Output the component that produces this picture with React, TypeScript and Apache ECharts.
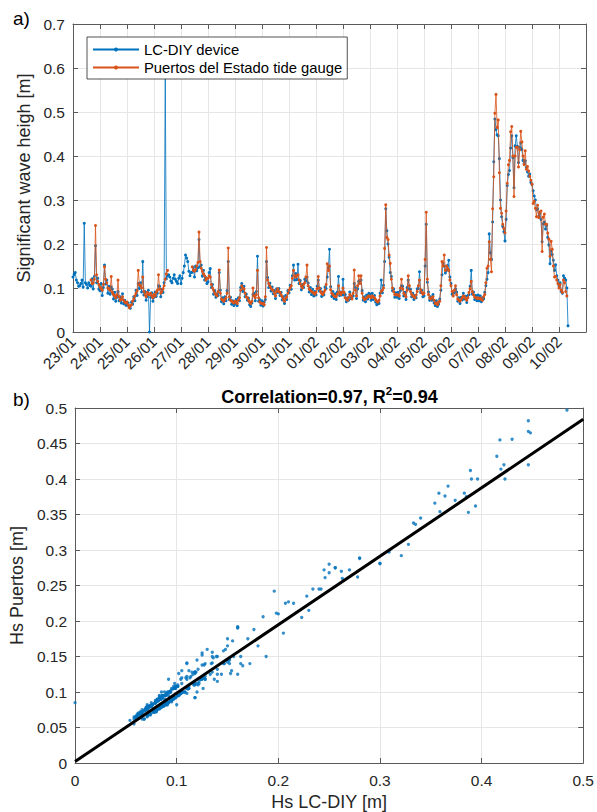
import React, { useEffect, useRef } from 'react';
import * as echarts from 'echarts';

// Day tick labels (one per day starting 23/01 at day 0)
const dateLabels = ['23/01', '24/01', '25/01', '26/01', '27/01', '28/01', '29/01', '30/01', '31/01',
  '01/02', '02/02', '03/02', '04/02', '05/02', '06/02', '07/02', '08/02', '09/02', '10/02'];

// Sampling step of both records, in days (hourly)
const sampleStepDays = 1 / 24;

// LC-DIY device significant wave height [m], hourly from 23/01 00:00 (one row per day)
const lcDiyHs: number[] = [
  0.125, 0.131, 0.135, 0.118, 0.112, 0.104, 0.105, 0.110, 0.118, 0.102, 0.247, 0.112, 0.108, 0.100, 0.112, 0.106, 0.104, 0.121, 0.098, 0.126, 0.196, 0.112, 0.122, 0.097,
  0.094, 0.110, 0.083, 0.101, 0.152, 0.109, 0.118, 0.088, 0.104, 0.086, 0.102, 0.097, 0.075, 0.090, 0.070, 0.079, 0.092, 0.071, 0.080, 0.066, 0.087, 0.064, 0.072, 0.061,
  0.061, 0.066, 0.058, 0.054, 0.068, 0.063, 0.080, 0.071, 0.095, 0.083, 0.110, 0.099, 0.112, 0.091, 0.160, 0.084, 0.092, 0.072, 0.081, 0.095, 0.000, 0.079, 0.089, 0.070,
  0.079, 0.091, 0.081, 0.088, 0.105, 0.104, 0.080, 0.097, 0.090, 0.112, 0.584, 0.121, 0.128, 0.130, 0.125, 0.116, 0.112, 0.122, 0.130, 0.120, 0.115, 0.110, 0.122, 0.128,
  0.110, 0.122, 0.135, 0.150, 0.175, 0.168, 0.160, 0.138, 0.128, 0.135, 0.136, 0.147, 0.125, 0.150, 0.139, 0.146, 0.210, 0.148, 0.152, 0.127, 0.140, 0.118, 0.124, 0.110,
  0.114, 0.135, 0.144, 0.101, 0.108, 0.086, 0.094, 0.079, 0.087, 0.083, 0.135, 0.095, 0.069, 0.078, 0.064, 0.080, 0.071, 0.094, 0.160, 0.074, 0.079, 0.063, 0.071, 0.060,
  0.064, 0.074, 0.060, 0.078, 0.071, 0.101, 0.110, 0.092, 0.104, 0.080, 0.086, 0.072, 0.077, 0.062, 0.058, 0.066, 0.085, 0.088, 0.071, 0.092, 0.172, 0.070, 0.074, 0.061,
  0.071, 0.059, 0.068, 0.074, 0.160, 0.124, 0.101, 0.111, 0.093, 0.102, 0.087, 0.094, 0.076, 0.098, 0.090, 0.099, 0.083, 0.090, 0.073, 0.080, 0.065, 0.083, 0.074, 0.094,
  0.089, 0.106, 0.097, 0.128, 0.152, 0.118, 0.133, 0.119, 0.154, 0.110, 0.117, 0.096, 0.108, 0.101, 0.120, 0.116, 0.125, 0.111, 0.091, 0.101, 0.085, 0.097, 0.082, 0.092,
  0.084, 0.104, 0.118, 0.093, 0.099, 0.081, 0.091, 0.084, 0.102, 0.099, 0.125, 0.146, 0.188, 0.103, 0.081, 0.092, 0.076, 0.087, 0.074, 0.091, 0.126, 0.083, 0.091, 0.084,
  0.120, 0.084, 0.085, 0.069, 0.078, 0.072, 0.091, 0.076, 0.081, 0.082, 0.110, 0.101, 0.076, 0.098, 0.115, 0.117, 0.118, 0.094, 0.072, 0.080, 0.069, 0.084, 0.075, 0.088,
  0.086, 0.072, 0.088, 0.074, 0.083, 0.068, 0.062, 0.064, 0.065, 0.088, 0.118, 0.089, 0.106, 0.160, 0.280, 0.230, 0.200, 0.170, 0.135, 0.126, 0.094, 0.098, 0.079, 0.089,
  0.079, 0.090, 0.076, 0.094, 0.105, 0.104, 0.082, 0.090, 0.074, 0.101, 0.118, 0.098, 0.097, 0.080, 0.088, 0.074, 0.083, 0.078, 0.098, 0.099, 0.137, 0.090, 0.095, 0.080,
  0.082, 0.150, 0.245, 0.113, 0.091, 0.072, 0.080, 0.072, 0.085, 0.066, 0.060, 0.071, 0.058, 0.063, 0.075, 0.095, 0.130, 0.156, 0.150, 0.134, 0.140, 0.151, 0.163, 0.125,
  0.110, 0.086, 0.088, 0.089, 0.098, 0.091, 0.070, 0.078, 0.065, 0.079, 0.073, 0.088, 0.075, 0.081, 0.067, 0.083, 0.085, 0.104, 0.140, 0.086, 0.091, 0.074, 0.083, 0.071,
  0.084, 0.071, 0.082, 0.069, 0.077, 0.075, 0.090, 0.105, 0.120, 0.135, 0.223, 0.180, 0.165, 0.250, 0.387, 0.484, 0.460, 0.448, 0.446, 0.394, 0.300, 0.262, 0.240, 0.228,
  0.207, 0.256, 0.333, 0.358, 0.367, 0.418, 0.446, 0.396, 0.328, 0.423, 0.446, 0.422, 0.385, 0.419, 0.430, 0.415, 0.390, 0.383, 0.389, 0.374, 0.364, 0.354, 0.359, 0.340,
  0.335, 0.321, 0.309, 0.300, 0.278, 0.280, 0.263, 0.270, 0.256, 0.205, 0.246, 0.250, 0.234, 0.242, 0.215, 0.198, 0.155, 0.185, 0.176, 0.163, 0.140, 0.153, 0.128, 0.118,
  0.105, 0.112, 0.092, 0.088, 0.128, 0.122, 0.118, 0.100, 0.014,
];

// Puertos del Estado tide gauge significant wave height [m], same hourly grid (null = no data)
const puertosHs: (number | null)[] = [
  null, null, null, null, null, null, null, null, null, null, null, null, null, null, null, null, 0.118, 0.110, 0.112, 0.120, 0.242, 0.130, 0.115, 0.108,
  0.102, 0.098, 0.095, 0.108, 0.148, 0.120, 0.112, 0.100, 0.098, 0.095, 0.126, 0.090, 0.085, 0.082, 0.078, 0.084, 0.118, 0.080, 0.072, 0.075, 0.080, 0.072, 0.068, 0.066,
  0.068, 0.062, 0.055, 0.060, 0.062, 0.070, 0.075, 0.082, 0.088, 0.094, 0.140, 0.108, 0.105, 0.100, 0.125, 0.092, 0.085, 0.080, 0.090, 0.086, 0.085, 0.088, 0.082, 0.078,
  0.085, 0.082, 0.090, 0.095, 0.130, 0.098, 0.088, 0.092, 0.098, 0.105, 0.120, 0.132, 0.140, null, null, null, null, null, null, null, null, null, null, null,
  null, null, null, null, null, null, null, null, null, null, 0.148, 0.140, 0.138, 0.142, 0.150, 0.158, 0.227, 0.160, 0.145, 0.138, 0.132, 0.128, 0.118, 0.122,
  0.122, 0.128, 0.125, 0.108, 0.100, 0.095, 0.088, 0.085, 0.082, 0.092, 0.141, 0.088, 0.075, 0.072, 0.070, 0.074, 0.078, 0.088, 0.191, 0.080, 0.072, 0.070, 0.068, 0.066,
  0.070, 0.068, 0.065, 0.072, 0.078, 0.095, 0.105, 0.100, 0.098, 0.088, 0.080, 0.078, 0.072, 0.068, 0.065, 0.070, 0.100, 0.082, 0.078, 0.085, 0.140, 0.078, 0.068, 0.066,
  0.065, 0.064, 0.062, 0.080, 0.192, 0.118, 0.110, 0.104, 0.100, 0.096, 0.095, 0.088, 0.082, 0.092, 0.098, 0.092, 0.090, 0.084, 0.080, 0.074, 0.070, 0.076, 0.080, 0.088,
  0.095, 0.100, 0.105, 0.122, 0.140, 0.128, 0.125, 0.128, 0.130, 0.118, 0.110, 0.104, 0.100, 0.108, 0.112, 0.125, 0.152, 0.105, 0.098, 0.095, 0.092, 0.090, 0.088, 0.086,
  0.090, 0.098, 0.126, 0.100, 0.092, 0.088, 0.085, 0.090, 0.095, 0.108, 0.155, 0.140, 0.150, 0.096, 0.088, 0.085, 0.082, 0.080, 0.080, 0.086, 0.105, 0.090, 0.085, 0.090,
  0.100, 0.090, 0.078, 0.075, 0.072, 0.078, 0.085, 0.082, 0.075, 0.088, 0.141, 0.095, 0.082, 0.105, 0.128, 0.110, 0.128, 0.088, 0.078, 0.074, 0.075, 0.078, 0.080, 0.082,
  0.080, 0.078, 0.082, 0.080, 0.078, 0.074, 0.070, 0.068, 0.072, 0.082, 0.092, 0.095, 0.100, 0.190, 0.289, 0.215, 0.210, 0.175, 0.156, 0.120, 0.100, 0.092, 0.085, 0.084,
  0.085, 0.084, 0.082, 0.100, 0.120, 0.098, 0.088, 0.084, 0.080, 0.095, 0.128, 0.105, 0.092, 0.086, 0.082, 0.080, 0.078, 0.084, 0.092, 0.105, 0.118, 0.096, 0.090, 0.086,
  0.088, 0.165, 0.272, 0.120, 0.085, 0.078, 0.075, 0.078, 0.080, 0.072, 0.065, 0.066, 0.062, 0.068, 0.070, 0.105, 0.160, 0.150, 0.175, 0.140, 0.150, 0.145, 0.140, 0.118,
  0.105, 0.092, 0.082, 0.095, 0.105, 0.085, 0.075, 0.072, 0.070, 0.074, 0.078, 0.082, 0.080, 0.076, 0.072, 0.078, 0.090, 0.098, 0.115, 0.092, 0.085, 0.080, 0.078, 0.076,
  0.078, 0.076, 0.077, 0.074, 0.072, 0.080, 0.085, 0.112, 0.145, 0.150, 0.205, 0.165, 0.137, 0.280, 0.353, 0.497, 0.540, 0.465, 0.482, 0.362, 0.281, 0.270, 0.245, 0.235,
  0.225, 0.275, 0.338, 0.380, 0.390, 0.455, 0.467, 0.400, 0.308, 0.400, 0.420, 0.420, 0.375, 0.414, 0.456, 0.432, 0.400, 0.380, 0.412, 0.370, 0.376, 0.366, 0.354, 0.345,
  0.336, 0.292, 0.297, 0.281, 0.262, 0.288, 0.260, 0.272, 0.275, 0.183, 0.261, 0.268, 0.245, 0.245, 0.225, 0.211, 0.172, 0.206, 0.188, 0.150, 0.125, 0.126, 0.118, 0.110,
  0.100, 0.108, 0.095, 0.090, 0.118, 0.112, 0.092, 0.082, null,
];

// Regression line end points (Hs LC-DIY -> Hs Puertos)
const fitX = [0, 0.5];
const fitY = [0.002, 0.484];

const seriesNames = ['LC-DIY device', 'Puertos del Estado tide gauge'];
const BLUE = '#0072BD';
const ORANGE = '#D95319';
const FONT = '"Liberation Sans", Arial, Helvetica, sans-serif';
const TXT = '#262626';
const AXIS = '#5a5a5a';
const GRIDC = '#e6e6e6';

export default function App() {
  const ref = useRef<HTMLDivElement>(null);
  useEffect(() => {
    const chart = echarts.init(ref.current!, null, { renderer: 'svg' });

    const blueData = lcDiyHs.map((v, i) => [i * sampleStepDays, v]);
    const orangeData = puertosHs.map((v, i) => [i * sampleStepDays, v === null ? '-' : v]);
    const scatterData: number[][] = [];
    lcDiyHs.forEach((b, i) => {
      const p = puertosHs[i];
      if (p !== null && p !== undefined) scatterData.push([b, p]);
    });
    const fitData = fitX.map((x, i) => [x, fitY[i]]);

    const fmt = (v: number) => String(Number(v.toFixed(2)));
    const lbl = { color: TXT, fontSize: 15.5, fontFamily: FONT };
    const axLine = { show: true, onZero: false, lineStyle: { color: AXIS, width: 1 } };
    const tick = { show: true, inside: true, length: 5, lineStyle: { color: AXIS } };
    const split = { show: true, lineStyle: { color: GRIDC, width: 1 } };
    const nameStyle = { color: TXT, fontSize: 18, fontFamily: FONT };

    const option: any = {
      animation: false,
      backgroundColor: '#fff',
      textStyle: { fontFamily: FONT },
      grid: [
        { left: 73, top: 24, width: 513, height: 308 },
        { left: 73, top: 408, width: 513, height: 356 },
      ],
      xAxis: [
        {
          gridIndex: 0, type: 'value', min: 0, max: 19, interval: 1, position: 'bottom',
          axisLine: axLine, axisTick: tick, splitLine: split,
          axisLabel: { ...lbl, rotate: 45, margin: 7, formatter: (v: number) => dateLabels[Math.round(v)] ?? '' },
        },
        {
          gridIndex: 0, type: 'value', min: 0, max: 19, interval: 1, position: 'top',
          axisLine: axLine, axisTick: tick, splitLine: { show: false }, axisLabel: { show: false },
        },
        {
          gridIndex: 1, type: 'value', min: 0, max: 0.5, interval: 0.1, position: 'bottom',
          axisLine: axLine, axisTick: tick, splitLine: split,
          axisLabel: { ...lbl, margin: 9, formatter: fmt },
          name: 'Hs LC-DIY [m]', nameLocation: 'middle', nameGap: 30, nameTextStyle: nameStyle,
        },
        {
          gridIndex: 1, type: 'value', min: 0, max: 0.5, interval: 0.1, position: 'top',
          axisLine: axLine, axisTick: tick, splitLine: { show: false }, axisLabel: { show: false },
        },
      ],
      yAxis: [
        {
          gridIndex: 0, type: 'value', min: 0, max: 0.7, interval: 0.1, position: 'left',
          axisLine: axLine, axisTick: tick, splitLine: split,
          axisLabel: { ...lbl, margin: 8, formatter: fmt },
          name: 'Significant wave heigh [m]', nameLocation: 'middle', nameGap: 27, nameTextStyle: nameStyle,
        },
        {
          gridIndex: 0, type: 'value', min: 0, max: 0.7, interval: 0.1, position: 'right',
          axisLine: axLine, axisTick: tick, splitLine: { show: false }, axisLabel: { show: false },
        },
        {
          gridIndex: 1, type: 'value', min: 0, max: 0.5, interval: 0.05, position: 'left',
          axisLine: axLine, axisTick: tick, splitLine: split,
          axisLabel: { ...lbl, margin: 8, formatter: fmt },
          name: 'Hs Puertos [m]', nameLocation: 'middle', nameGap: 34, nameTextStyle: nameStyle,
        },
        {
          gridIndex: 1, type: 'value', min: 0, max: 0.5, interval: 0.05, position: 'right',
          axisLine: axLine, axisTick: tick, splitLine: { show: false }, axisLabel: { show: false },
        },
      ],
      legend: {
        data: seriesNames,
        orient: 'vertical',
        left: 87, top: 37,
        itemWidth: 46, itemHeight: 5, itemGap: 3,
        padding: [5, 5, 4, 5],
        borderColor: '#262626', borderWidth: 0.8, borderRadius: 0,
        backgroundColor: '#fff',
        textStyle: { fontSize: 14.8, color: '#000', fontFamily: FONT },
        selectedMode: false,
      },
      series: [
        {
          name: seriesNames[0], type: 'line', xAxisIndex: 0, yAxisIndex: 0,
          data: blueData, symbol: 'circle', symbolSize: 3, showSymbol: true, showAllSymbol: true,
          lineStyle: { color: BLUE, width: 0.8 }, itemStyle: { color: BLUE },
          clip: true, z: 2, emphasis: { disabled: true }, connectNulls: false,
        },
        {
          name: seriesNames[1], type: 'line', xAxisIndex: 0, yAxisIndex: 0,
          data: orangeData, symbol: 'circle', symbolSize: 3, showSymbol: true, showAllSymbol: true,
          lineStyle: { color: ORANGE, width: 0.8 }, itemStyle: { color: ORANGE },
          clip: true, z: 3, emphasis: { disabled: true }, connectNulls: false,
        },
        {
          name: 'pairs', type: 'scatter', xAxisIndex: 2, yAxisIndex: 2,
          data: scatterData, symbol: 'circle', symbolSize: 3.3,
          itemStyle: { color: BLUE }, clip: true, z: 3, emphasis: { disabled: true },
        },
        {
          name: 'fit', type: 'line', xAxisIndex: 2, yAxisIndex: 2,
          data: fitData, symbol: 'none', showSymbol: false,
          lineStyle: { color: '#000', width: 3 }, z: 5, emphasis: { disabled: true },
        },
      ],
      graphic: [
        { type: 'text', left: 13, top: 9, style: { text: 'a)', fontSize: 19, fontFamily: FONT, fill: '#000' } },
        { type: 'text', left: 13, top: 390, style: { text: 'b)', fontSize: 19, fontFamily: FONT, fill: '#000' } },
        {
          type: 'text', x: 329.5, y: 397,
          style: {
            text: '{t|Correlation=0.97, R}{s|2}{t|=0.94}',
            align: 'center', verticalAlign: 'middle',
            rich: {
              t: { fontSize: 18, fontWeight: 'bold', fontFamily: FONT, fill: '#000', lineHeight: 25 },
              s: { fontSize: 11.5, fontWeight: 'bold', fontFamily: FONT, fill: '#000', lineHeight: 25, verticalAlign: 'top' },
            },
          },
        },
      ],
    };
    chart.setOption(option);
    return () => chart.dispose();
  }, []);
  return <div ref={ref} style={{ position: 'fixed', left: 0, top: 0, width: 597, height: 812, background: '#fff' }} />;
}
